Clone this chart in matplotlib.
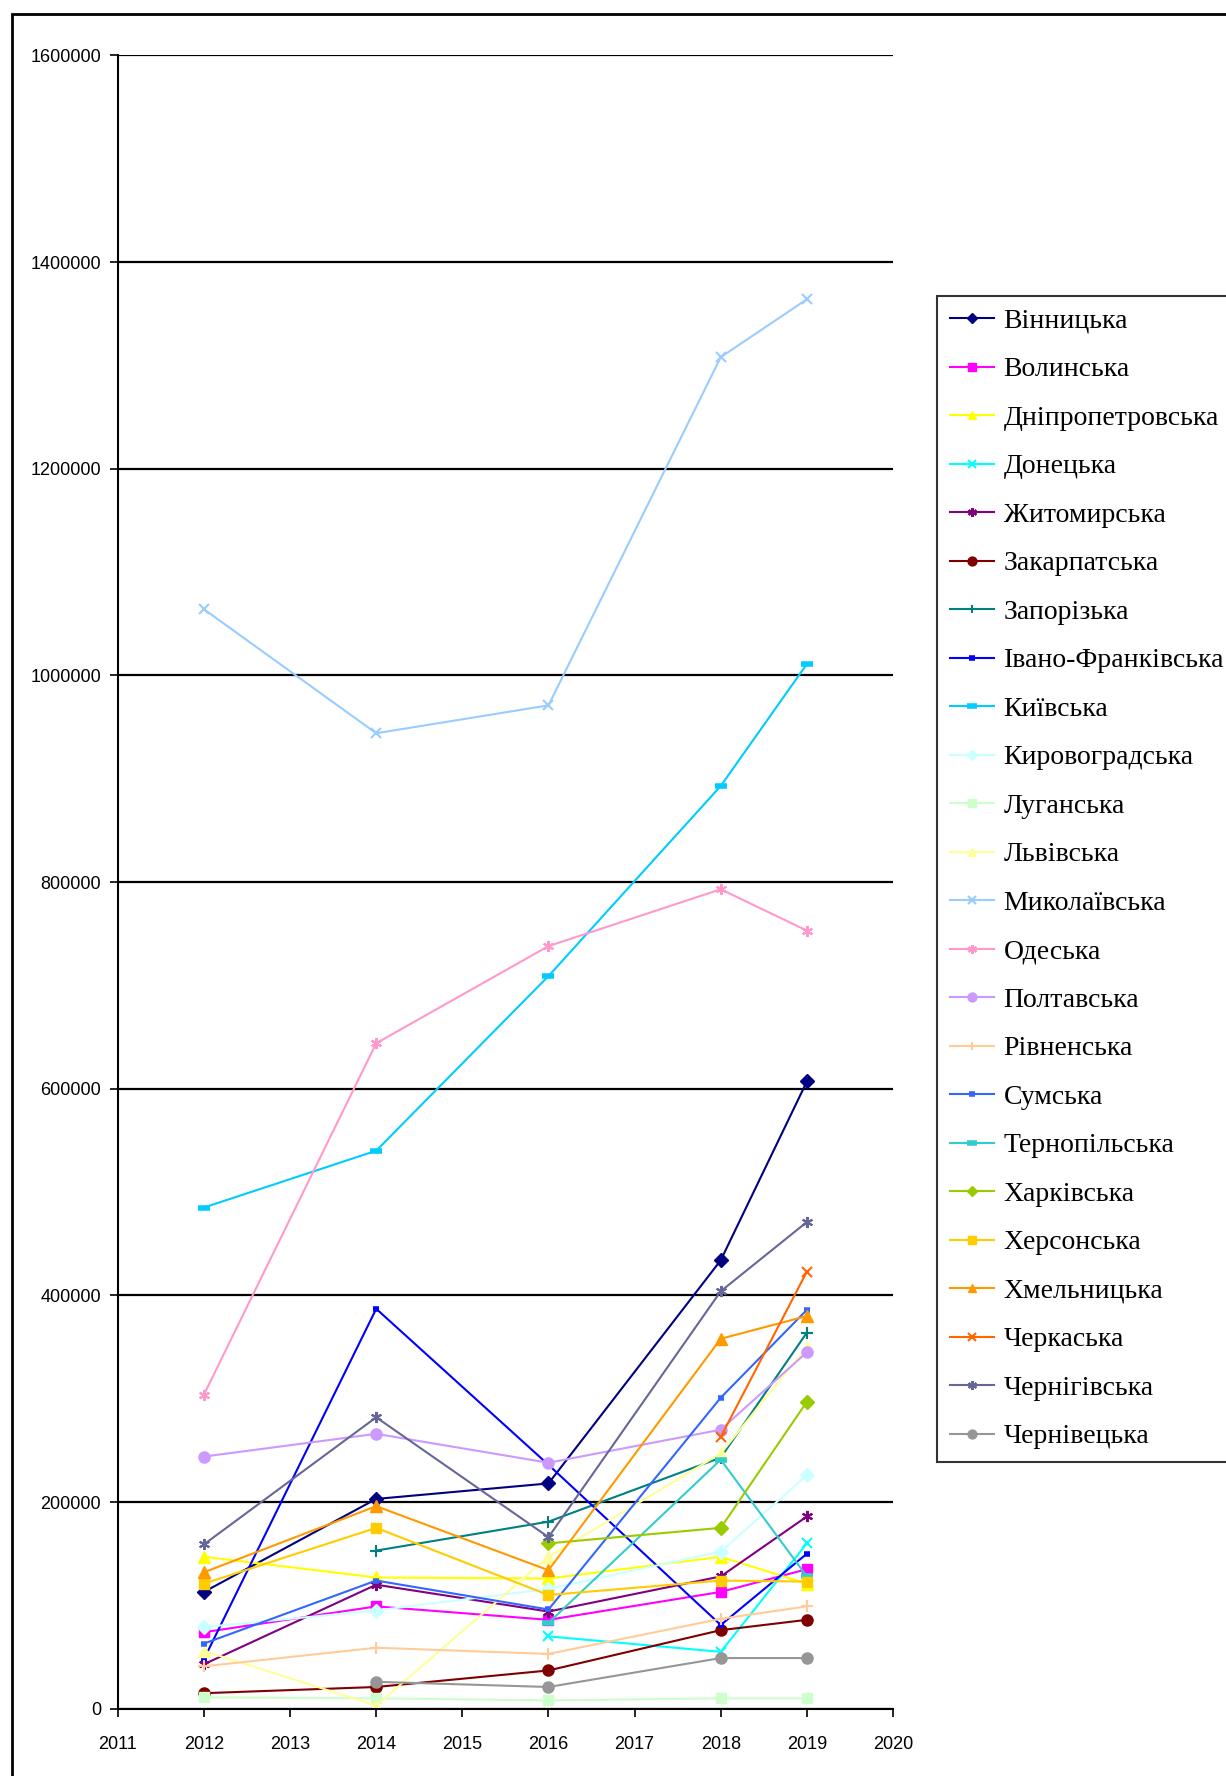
import numpy as np
import matplotlib
matplotlib.use("Agg")
import matplotlib.pyplot as plt
from matplotlib.patches import Rectangle

nan = np.nan
years = [2012, 2014, 2016, 2018, 2019]

vinnytska = [113000, 203000, 218000, 434000, 607000]
volynska = [74000, 99000, 86000, 113000, 135000]
dnipro = [147000, 127000, 126000, 147000, 121000]
donetska = [nan, nan, 70000, 55000, 160000]
zhytomyr = [43000, 120000, 94000, 128000, 186000]
zakarpat = [15000, 21000, 37000, 76000, 86000]
zaporiz = [nan, 153000, 181000, 243000, 364000]
ivfrank = [48000, 387000, 236000, 81000, 150000]
kyivska = [485000, 540000, 709000, 893000, 1011000]
kirovohr = [79000, 95000, 116000, 152000, 226000]
luhanska = [11000, 10000, 8000, 10000, 10000]
lvivska = [56000, 3000, 147000, 247000, 350000]
mykolaiv = [1064000, 944000, 971000, 1308000, 1364000]
odeska = [304000, 644000, 738000, 793000, 753000]
poltava = [244000, 266000, 238000, 270000, 345000]
rivne = [41000, 59000, 53000, 87000, 99000]
sumska = [63000, 124000, 96000, 301000, 386000]
ternopil = [nan, nan, 83000, 241000, 128000]
kharkiv = [nan, nan, 160000, 175000, 297000]
kherson = [121000, 175000, 110000, 124000, 123000]
khmeln = [132000, 196000, 134000, 358000, 380000]
cherkasy = [nan, nan, nan, 263000, 423000]
chernihiv = [159000, 282000, 166000, 404000, 471000]
chernivtsi = [nan, 26000, 21000, 49000, 49000]

names = ["Вінницька", "Волинська", "Дніпропетровська", "Донецька", "Житомирська",
         "Закарпатська", "Запорізька", "Івано-Франківська", "Київська", "Кировоградська",
         "Луганська", "Львівська", "Миколаївська", "Одеська", "Полтавська", "Рівненська",
         "Сумська", "Тернопільська", "Харківська", "Херсонська", "Хмельницька",
         "Черкаська", "Чернігівська", "Чернівецька"]
values = [vinnytska, volynska, dnipro, donetska, zhytomyr, zakarpat, zaporiz, ivfrank,
          kyivska, kirovohr, luhanska, lvivska, mykolaiv, odeska, poltava, rivne,
          sumska, ternopil, kharkiv, kherson, khmeln, cherkasy, chernihiv, chernivtsi]
colors = ["#000080", "#FF00FF", "#FFFF00", "#00FFFF", "#800080", "#800000", "#008080",
          "#0000FF", "#00CCFF", "#CCFFFF", "#CCFFCC", "#FFFF99", "#99CCFF", "#FF99CC",
          "#CC99FF", "#FFCC99", "#3366FF", "#33CCCC", "#99CC00", "#FFCC00", "#FF9900",
          "#FF6600", "#666699", "#969696"]

star = (6, 2, 0)
# marker, size, edge width
mstyles = [("D", 7, 1), ("s", 7, 1), ("^", 8, 1), ("x", 7, 1.5), (star, 8, 1.5),
           ("o", 8, 1), ("+", 8, 1.5), ("_", 5, 4), ("_", 9, 4), ("D", 7, 1),
           ("s", 7, 1), ("^", 8, 1), ("x", 7, 1.5), (star, 8, 1.5), ("o", 8, 1),
           ("+", 8, 1.5), ("_", 5, 4), ("_", 9, 4), ("D", 7, 1), ("s", 7, 1),
           ("^", 8, 1), ("x", 7, 1.5), (star, 8, 1.5), ("o", 8, 1)]

fig = plt.figure(figsize=(12.26, 17.76), dpi=100)
ax = fig.add_axes([0.0961, 0.0379, 0.6323, 0.9309])

for name, vals, c, (m, ms, mew) in zip(names, values, colors, mstyles):
    ax.plot(years, vals, color=c, lw=1.5, marker=m, markersize=ms,
            markeredgewidth=mew, markerfacecolor=c, markeredgecolor=c, label=name)

ax.set_xlim(2011, 2020)
ax.set_ylim(0, 1600000)
ax.set_xticks(range(2011, 2021))
ax.set_yticks(range(0, 1600001, 200000))
ax.set_yticklabels([str(v) for v in range(0, 1600001, 200000)])
ax.yaxis.grid(True, color="black", lw=1.6)
ax.set_axisbelow(True)
for s in ["top", "right"]:
    ax.spines[s].set_visible(False)
for s in ["left", "bottom"]:
    ax.spines[s].set_linewidth(1.5)
ax.tick_params(direction="out", length=6, width=1.2, labelsize=13, pad=6)
ax.tick_params(axis="x", pad=14)
for lab in ax.get_xticklabels() + ax.get_yticklabels():
    lab.set_family("Liberation Sans")

leg = fig.legend(loc="upper left", bbox_to_anchor=(937 / 1226, 1 - 296 / 1776),
                 frameon=True, fancybox=False, edgecolor="black", borderpad=0.45,
                 labelspacing=0.83, handlelength=1.6, handletextpad=0.35,
                 markerscale=0.8,
                 prop={"family": "Liberation Serif", "size": 20}, borderaxespad=0)
leg.get_frame().set_linewidth(1.5)

fig.patches.append(Rectangle((12 / 1226, -0.1), 1.2, 1.1 - 14 / 1776,
                             transform=fig.transFigure, fill=False,
                             edgecolor="black", lw=2))

fig.savefig("out.png", dpi=100)
